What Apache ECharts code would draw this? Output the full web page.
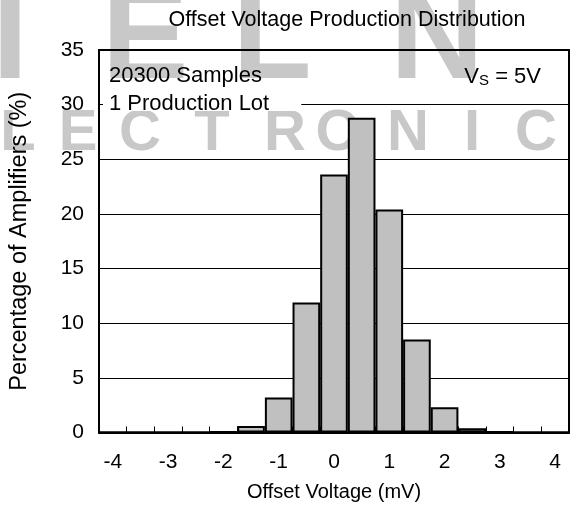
<!DOCTYPE html>
<html>
<head>
<meta charset="utf-8">
<script src="https://cdn.jsdelivr.net/npm/echarts@6/dist/echarts.min.js"></script>
<style>
html,body{margin:0;padding:0;background:#fff;}
#chart{width:573px;height:512px;}
</style>
</head>
<body>
<div id="chart"></div>
<script>
// Bin centres (mV), bin width 0.5 mV
const categories = ['-4','-3.5','-3','-2.5','-2','-1.5','-1','-0.5','0','0.5','1','1.5','2','2.5','3','3.5','4'];
// Percentage of amplifiers in each bin
const percents = [0,0,0,0,0.1,0.6,3.2,11.9,23.6,28.8,20.4,8.5,2.3,0.4,0.1,0,0];
const yMin = 0, yMax = 35, yStep = 5;

const FONT = 'Liberation Sans, Arial, sans-serif';
const FS = 21;
const WM = '#c8c8c8';

function wmText(ch, x, y, size) {
  return {
    type: 'text', z: -10, silent: true,
    style: { text: ch, x: x, y: y, fill: WM, font: 'bold ' + size + 'px ' + FONT, textAlign: 'center', textVerticalAlign: 'middle' }
  };
}

const chart = echarts.init(document.getElementById('chart'), null, {renderer: 'canvas'});
chart.setOption({
  animation: false,
  backgroundColor: '#fff',
  title: {
    text: 'Offset Voltage Production Distribution',
    left: 342, textAlign: 'center', top: 4,
    textStyle: { fontFamily: FONT, fontSize: 21.5, fontWeight: 'normal', color: '#000' }
  },
  grid: { left: 96, right: 4, top: 50, bottom: 79.5, show: true, borderColor: '#000', borderWidth: 2, backgroundColor: 'transparent' },
  xAxis: {
    type: 'category',
    data: categories,
    boundaryGap: true,
    name: 'Offset Voltage (mV)',
    nameLocation: 'middle',
    nameGap: 50,
    nameTextStyle: { fontFamily: FONT, fontSize: 20, color: '#000' },
    axisLine: { lineStyle: { color: '#000', width: 2 } },
    axisTick: { show: true, inside: true, length: 6, interval: 0, lineStyle: { color: '#000', width: 1 } },
    axisLabel: { interval: 1, margin: 19, fontFamily: FONT, fontSize: FS, color: '#000' },
    splitLine: { show: false }
  },
  yAxis: {
    type: 'value',
    min: yMin, max: yMax, interval: yStep,
    name: 'Percentage of Amplifiers (%)',
    nameLocation: 'middle',
    nameGap: 67,
    nameTextStyle: { fontFamily: FONT, fontSize: 23.5, color: '#000' },
    axisLine: { show: true, lineStyle: { color: '#000', width: 2 } },
    axisTick: { show: false },
    axisLabel: { margin: 15, fontFamily: FONT, fontSize: FS, color: '#000' },
    splitLine: { show: true, lineStyle: { color: '#000', width: 1 } }
  },
  series: [{
    type: 'bar',
    data: percents,
    barWidth: '100%',
    barGap: '0%',
    itemStyle: { color: '#c0c0c0', borderColor: '#000', borderWidth: 2 },
    z: 3
  }],
  graphic: {
    elements: [
      wmText('I', 10, 42, 130),
      wmText('E', 145, 42, 130),
      wmText('L', 272, 42, 130),
      wmText('N', 437, 42, 130),
      wmText('L', 18, 134, 58),
      wmText('E', 78, 134, 58),
      wmText('C', 140, 134, 58),
      wmText('T', 212, 134, 58),
      wmText('R', 285, 134, 58),
      wmText('O', 338, 134, 58),
      wmText('N', 408, 134, 58),
      wmText('I', 472, 134, 58),
      wmText('C', 536, 134, 58),
      { type: 'text', z: 50, style: { text: '20300 Samples', x: 109, y: 76, fill: '#000', font: '22px ' + FONT, textVerticalAlign: 'middle' } },
      { type: 'text', z: 50, style: { text: '1 Production Lot', x: 103, y: 104, fill: '#000', font: '22px ' + FONT, lineHeight: 14, textVerticalAlign: 'middle', backgroundColor: '#fff', padding: [0, 32, 0, 6] } },
      { type: 'text', z: 50, style: {
          text: '{v|V}{s|S}{v| = 5V}', x: 541, y: 77, textAlign: 'right', textVerticalAlign: 'middle',
          rich: {
            v: { fontFamily: FONT, fontSize: 22, lineHeight: 22, fill: '#000', verticalAlign: 'bottom' },
            s: { fontFamily: FONT, fontSize: 15, lineHeight: 6, fill: '#000', verticalAlign: 'bottom' }
          }
      } }
    ]
  }
});
</script>
</body>
</html>
